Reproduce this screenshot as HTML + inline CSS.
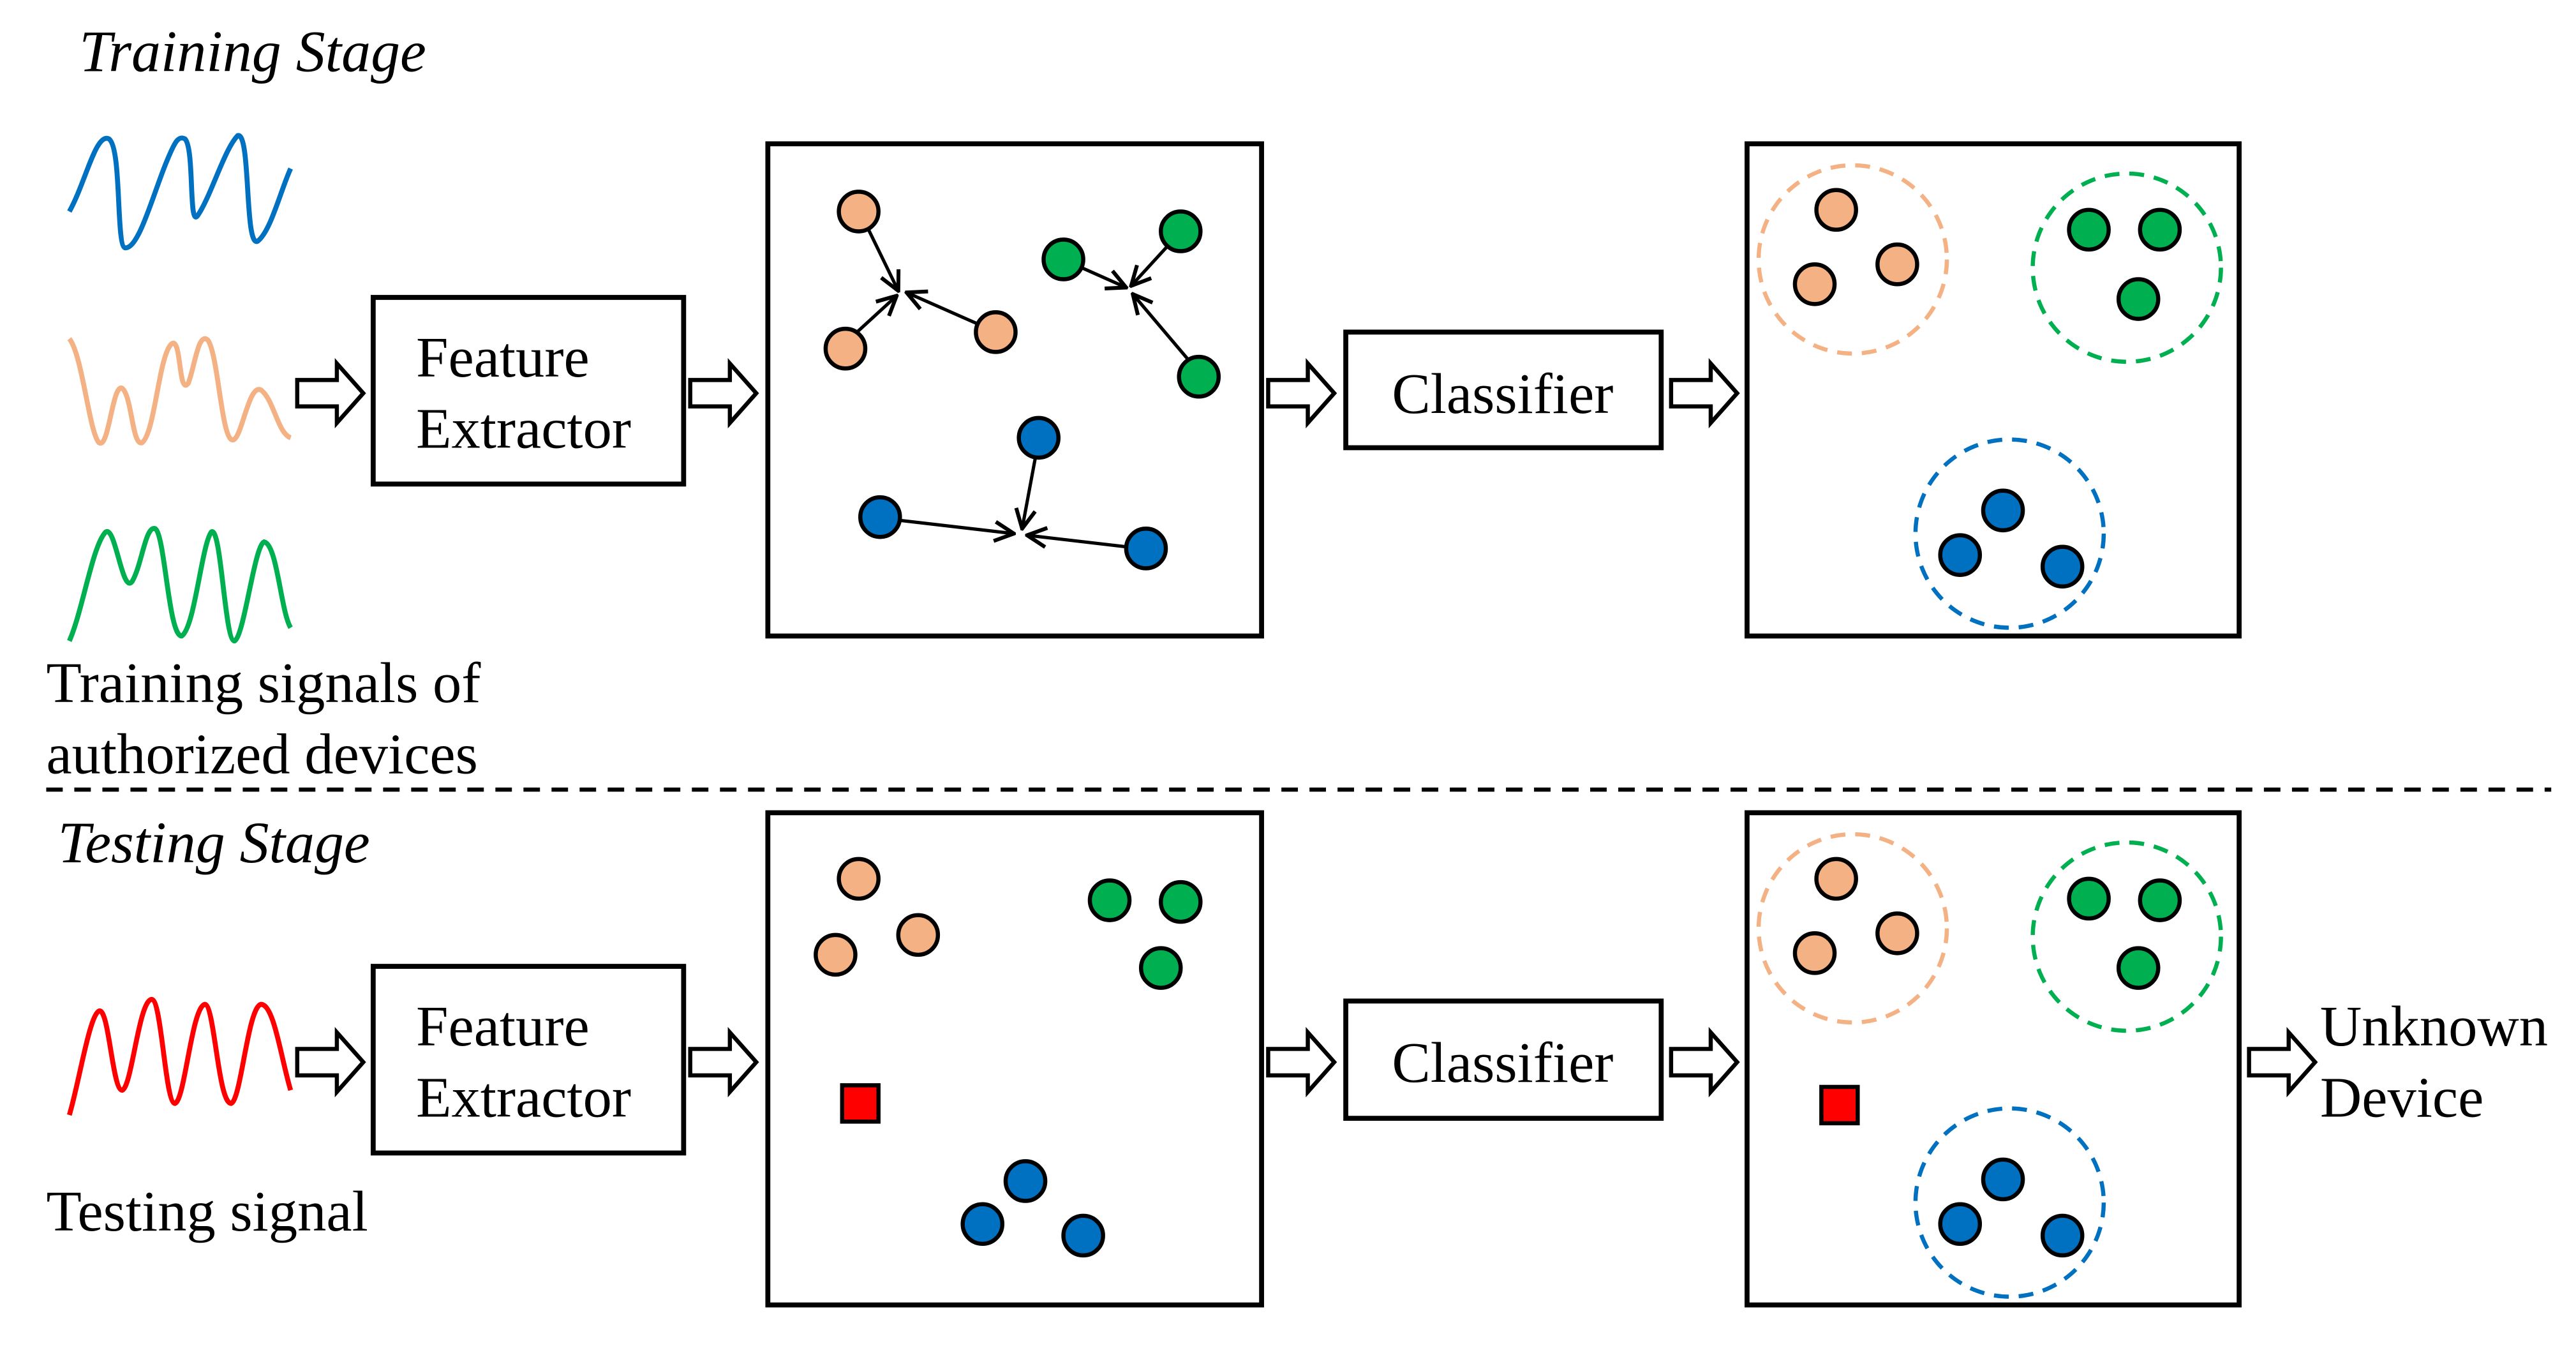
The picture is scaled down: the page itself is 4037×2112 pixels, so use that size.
<!DOCTYPE html>
<html><head><meta charset="utf-8"><style>
html,body{margin:0;padding:0;background:#fff;}
svg{display:block;}
text{font-family:"Liberation Serif",serif;fill:#000;}
</style></head><body>
<svg width="4037" height="2112" viewBox="0 0 1560 816" xmlns="http://www.w3.org/2000/svg">
<defs>
<marker id="ah" viewBox="0 0 12 12" refX="11" refY="6" markerWidth="14" markerHeight="14" markerUnits="userSpaceOnUse" orient="auto">
<path d="M1,1 L11,6 L1,11" fill="none" stroke="#000" stroke-width="2"/>
</marker>
<g id="harrow"><path d="M0,-8 H24 V-18 L40,0 L24,18 V8 H0 Z" fill="#fff" stroke="#000" stroke-width="2.5" stroke-linejoin="miter"/></g>
</defs>
<rect width="1560" height="816" fill="#fff"/>

<text x="48" y="43" font-size="35.5" font-style="italic">Training Stage</text>
<text x="35" y="522" font-size="35.5" font-style="italic">Testing Stage</text>

<!-- waves -->
<path d="M42,128 C52,110 58,80 66,84 C74,90 70,150 76,150 C84,150 92,120 100,100 C106,85 108,82 112,84 C118,90 114,140 120,130 C128,118 136,90 144,82 C152,80 148,150 156,146 C164,140 170,115 176,102" fill="none" stroke="#0070C0" stroke-width="3"/>
<path d="M42,205 C50,215 54,262 60,268 C66,272 68,232 74,235 C80,240 80,270 86,268 C94,262 96,215 104,208 C110,204 108,240 114,232 C118,222 120,200 126,206 C132,215 134,262 140,266 C146,270 150,232 158,236 C166,242 168,262 176,265" fill="none" stroke="#F4B183" stroke-width="3"/>
<path d="M42,388 C50,370 56,330 64,322 C70,318 74,360 80,352 C86,342 88,318 94,320 C100,324 102,385 110,385 C118,380 122,330 128,322 C134,318 136,388 142,388 C148,385 154,330 160,328 C168,330 170,370 176,380" fill="none" stroke="#00B050" stroke-width="3"/>
<path d="M42,675 C48,655 54,615 60,612 C66,610 68,660 74,660 C80,658 84,605 92,605 C98,606 100,668 106,668 C112,666 116,610 124,608 C130,608 132,668 140,668 C146,666 150,610 158,608 C166,608 170,640 176,660" fill="none" stroke="#FF0000" stroke-width="3"/>

<text x="28" y="425" font-size="35">Training signals of</text>
<text x="28" y="468" font-size="35">authorized devices</text>
<text x="28" y="745" font-size="35">Testing signal</text>

<!-- arrows -->
<use href="#harrow" x="180" y="238"/><use href="#harrow" x="418" y="238"/><use href="#harrow" x="768" y="238"/><use href="#harrow" x="1012" y="238"/>
<use href="#harrow" x="180" y="643"/><use href="#harrow" x="418" y="643"/><use href="#harrow" x="768" y="643"/><use href="#harrow" x="1012" y="643"/><use href="#harrow" x="1362" y="643"/>

<g fill="#fff" stroke="#000" stroke-width="3">
<rect x="226" y="180" width="188" height="113"/>
<rect x="226" y="585" width="188" height="113"/>
<rect x="465" y="87" width="299" height="298"/>
<rect x="1058" y="87" width="298" height="298"/>
<rect x="465" y="492" width="299" height="298"/>
<rect x="1058" y="492" width="298" height="298"/>
<rect x="815" y="201" width="191" height="70"/>
<rect x="815" y="606" width="191" height="71"/>
</g>
<text x="252" y="228" font-size="35">Feature</text><text x="252" y="271" font-size="35">Extractor</text>
<text x="252" y="633" font-size="35">Feature</text><text x="252" y="676" font-size="35">Extractor</text>
<text x="910" y="250" font-size="35" text-anchor="middle">Classifier</text>
<text x="910" y="655" font-size="35" text-anchor="middle">Classifier</text>
<text x="1405" y="633" font-size="35">Unknown</text><text x="1405" y="676" font-size="35">Device</text>

<line x1="28" y1="478" x2="1545" y2="478" stroke="#000" stroke-width="2.5" stroke-dasharray="10,7"/>

<!-- box1 arrows -->
<g stroke="#000" stroke-width="2" marker-end="url(#ah)">
<line x1="526" y1="139" x2="544" y2="176"/><line x1="519" y1="201" x2="543" y2="179"/><line x1="592" y1="196" x2="549" y2="177"/>
<line x1="655" y1="162" x2="682" y2="174"/><line x1="707" y1="149" x2="685" y2="173"/><line x1="719" y1="217" x2="686" y2="178"/>
<line x1="627" y1="277" x2="619" y2="320"/><line x1="545" y1="315" x2="614" y2="323"/><line x1="682" y1="331" x2="622" y2="324"/>
</g>

<g stroke="#000" stroke-width="2.5">
<g fill="#F4B183"><circle cx="520" cy="128" r="12"/><circle cx="512" cy="211" r="12"/><circle cx="603" cy="201" r="12"/>
<circle cx="520" cy="532" r="12"/><circle cx="506" cy="578" r="12"/><circle cx="556" cy="566" r="12"/>
<circle cx="1112" cy="127" r="12"/><circle cx="1099" cy="172" r="12"/><circle cx="1149" cy="160" r="12"/>
<circle cx="1112" cy="532" r="12"/><circle cx="1099" cy="577" r="12"/><circle cx="1149" cy="565" r="12"/></g>
<g fill="#00B050"><circle cx="644" cy="157" r="12"/><circle cx="715" cy="140" r="12"/><circle cx="726" cy="228" r="12"/>
<circle cx="672" cy="545" r="12"/><circle cx="715" cy="546" r="12"/><circle cx="703" cy="586" r="12"/>
<circle cx="1265" cy="139" r="12"/><circle cx="1308" cy="139" r="12"/><circle cx="1295" cy="181" r="12"/>
<circle cx="1265" cy="544" r="12"/><circle cx="1308" cy="545" r="12"/><circle cx="1295" cy="586" r="12"/></g>
<g fill="#0070C0"><circle cx="629" cy="265" r="12"/><circle cx="533" cy="313" r="12"/><circle cx="694" cy="332" r="12"/>
<circle cx="621" cy="715" r="12"/><circle cx="595" cy="741" r="12"/><circle cx="656" cy="748" r="12"/>
<circle cx="1213" cy="309" r="12"/><circle cx="1187" cy="336" r="12"/><circle cx="1249" cy="343" r="12"/>
<circle cx="1213" cy="714" r="12"/><circle cx="1187" cy="741" r="12"/><circle cx="1249" cy="748" r="12"/></g>
<rect x="510" y="657" width="22" height="22" fill="#FF0000"/>
<rect x="1103" y="658" width="22" height="22" fill="#FF0000"/>
</g>

<g fill="none" stroke-width="2.5" stroke-dasharray="9,6">
<circle cx="1122" cy="157" r="57" stroke="#F4B183"/><circle cx="1288" cy="162" r="57" stroke="#00B050"/><circle cx="1217" cy="323" r="57" stroke="#0070C0"/>
<circle cx="1122" cy="562" r="57" stroke="#F4B183"/><circle cx="1288" cy="567" r="57" stroke="#00B050"/><circle cx="1217" cy="728" r="57" stroke="#0070C0"/>
</g>
</svg>
</body></html>
